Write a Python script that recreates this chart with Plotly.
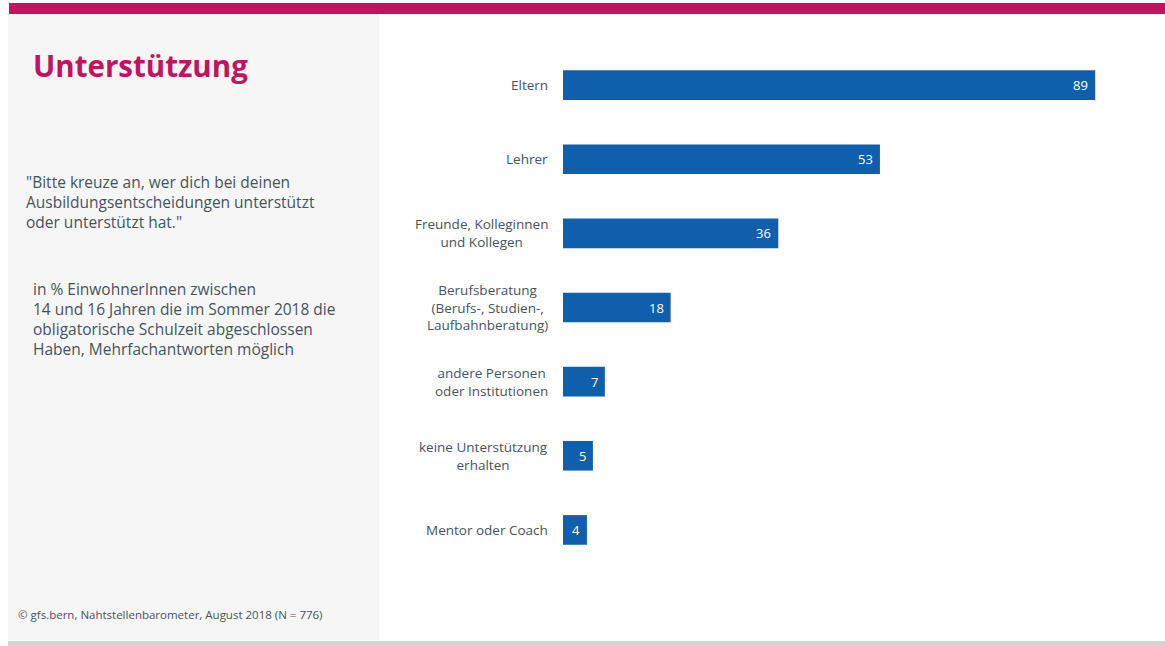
import plotly.graph_objects as go

# Survey answers (percent, multiple answers possible)
categories = [
    "Eltern",
    "Lehrer",
    "Freunde, Kolleginnen<br>und Kollegen",
    "Berufsberatung<br>(Berufs-, Studien-,<br>Laufbahnberatung)",
    "andere Personen<br>oder Institutionen",
    "keine Unterstützung<br>erhalten",
    "Mentor oder Coach",
]
values = [89, 53, 36, 18, 7, 5, 4]

title_text = "Unterstützung"
question_lines = [
    '"Bitte kreuze an, wer dich bei deinen',
    "Ausbildungsentscheidungen unterstützt",
    'oder unterstützt hat."',
]
base_lines = [
    "in % EinwohnerInnen zwischen",
    "14 und 16 Jahren die im Sommer 2018 die",
    "obligatorische Schulzeit abgeschlossen",
    "Haben, Mehrfachantworten möglich",
]
source_text = "© gfs.bern, Nahtstellenbarometer, August 2018 (N = 776)"

W, H = 1165, 646
ML, MR, MT, MB = 563, 4, 48, 79
PW = W - ML - MR
PH = H - MT - MB

BAR = "#0f5fad"
TXT = "#47535f"
MAGENTA = "#c2135f"
FONT = "Open Sans"


def px_x(x):
    return (x - ML) / PW


def px_y(y):
    return 1 - (y - MT) / PH


fig = go.Figure()
fig.add_trace(go.Bar(
    x=values,
    y=categories,
    orientation="h",
    width=0.4,
    marker=dict(color=BAR, line=dict(width=0)),
    hoverinfo="skip",
))

# value labels inside the bar ends
for c, v in zip(categories, values):
    fig.add_annotation(
        x=v, y=c, xref="x", yref="y", text=str(v),
        xanchor="right", yanchor="middle", xshift=-5, showarrow=False,
        font=dict(family=FONT, size=13, color="white"),
    )

# category labels, centred line by line, right-aligned next to the bars
for c in categories:
    fig.add_annotation(
        x=0, y=c, xref="paper", yref="y", text=c,
        xanchor="right", yanchor="middle", xshift=-13, showarrow=False,
        align="center",
        font=dict(family=FONT, size=13.5, color=TXT),
    )

shapes = [
    # grey side panel
    dict(type="rect", xref="paper", yref="paper", layer="below",
         x0=px_x(8), x1=px_x(379), y0=px_y(640), y1=px_y(14),
         fillcolor="#f6f6f6", line=dict(width=0)),
    # magenta top band
    dict(type="rect", xref="paper", yref="paper", layer="below",
         x0=px_x(9), x1=px_x(1165), y0=px_y(14), y1=px_y(3),
         fillcolor=MAGENTA, line=dict(width=0)),
    # grey bottom band
    dict(type="rect", xref="paper", yref="paper", layer="below",
         x0=px_x(8), x1=px_x(1165), y0=px_y(646), y1=px_y(641),
         fillcolor="#d3d3d3", line=dict(width=0)),
]


def side_text(text, x, y, size, color=TXT):
    fig.add_annotation(
        x=px_x(x), y=px_y(y), xref="paper", yref="paper",
        text=text, xanchor="left", yanchor="middle", align="left",
        showarrow=False,
        font=dict(family=FONT, size=size, color=color),
    )


side_text(f"<b>{title_text}</b>", 31, 66, 29.5, MAGENTA)
side_text("<br>".join(question_lines), 24, 202, 15.5)
side_text("<br>".join(base_lines), 31, 319, 15.5)
side_text(source_text, 16, 614, 11.5)

fig.update_layout(
    width=W, height=H,
    margin=dict(l=ML, r=MR, t=MT, b=MB, pad=0),
    paper_bgcolor="white", plot_bgcolor="rgba(0,0,0,0)",
    showlegend=False,
    shapes=shapes,
    bargap=0.6,
    xaxis=dict(range=[0, 100], visible=False, fixedrange=True),
    yaxis=dict(autorange="reversed", showticklabels=False, showgrid=False,
               zeroline=False, showline=False, ticks="", fixedrange=True),
    font=dict(family=FONT),
)

fig.write_html("out.html", config={"displayModeBar": False})
